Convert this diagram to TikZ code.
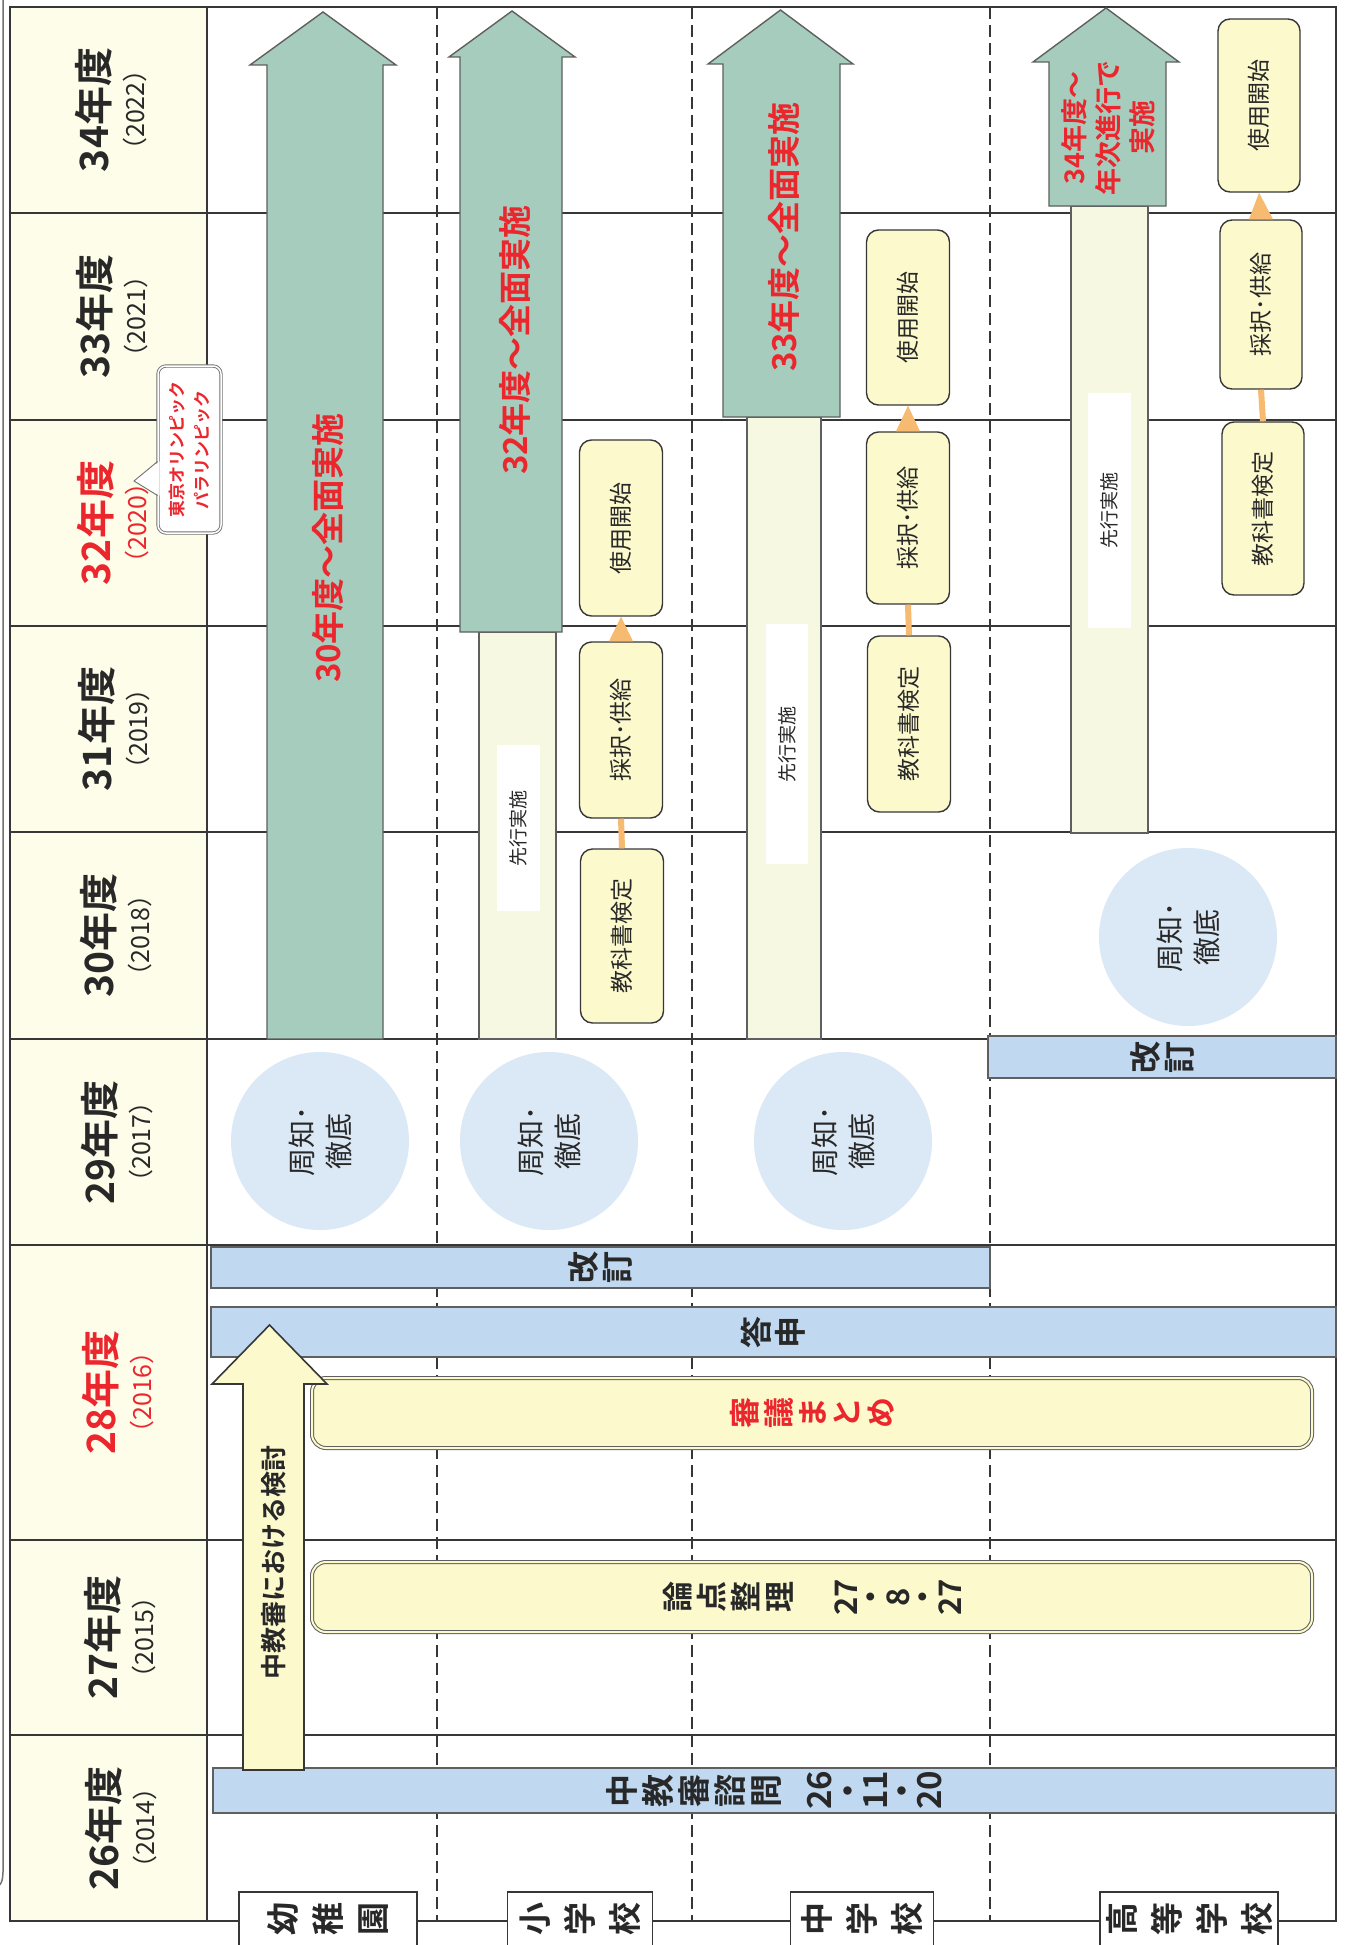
\documentclass[tikz,border=0pt]{standalone}
\usepackage{fontspec}
\setmainfont{Noto Sans CJK JP}[BoldFont={Noto Sans CJK JP Bold}]
\usetikzlibrary{calc}
\definecolor{greenc}{RGB}{166,204,189}
\definecolor{palec}{RGB}{246,248,226}
\definecolor{yellowc}{RGB}{252,249,205}
\definecolor{headc}{RGB}{253,253,234}
\definecolor{bluec}{RGB}{192,217,240}
\definecolor{circc}{RGB}{219,232,245}
\definecolor{redc}{RGB}{235,38,45}
\definecolor{orangec}{RGB}{246,186,112}
\definecolor{linec}{RGB}{55,55,55}
\definecolor{textc}{RGB}{40,40,40}
\newcommand\fs[2]{\fontsize{#1}{#2}\selectfont}
% #1 style, #2 shaft left, #3 shaft right, #4 wing left, #5 wing right, #6 head base y, #7 tip y, #8 bottom y
\newcommand\blockarrow[8]{%
  \path[#1] (#2,#8) -- (#2,#6) -- (#4,#6) -- ({(#4+#5)/2},#7) -- (#5,#6) -- (#3,#6) -- (#3,#8) -- cycle;}
\tikzset{
  gridline/.style={draw=linec, line width=2.4pt},
  sepline/.style={draw=linec, line width=1.8pt, dash pattern=on 12pt off 6pt},
  garrow/.style={fill=greenc, draw=linec!80, line width=1.4pt},
  parrow/.style={fill=yellowc, draw=linec, line width=1.6pt},
  palebar/.style={fill=palec, draw=linec!80, line width=1.3pt},
  wbox/.style={rectangle, fill=white, rotate=90, inner sep=0pt, font=\fs{19}{22}},
  ybox/.style={rectangle, rounded corners=12pt, fill=yellowc, draw=linec, line width=1.4pt, rotate=90, inner sep=0pt, font=\fs{23}{26}},
  bband/.style={rectangle, fill=bluec, draw=linec!80, line width=1.4pt, rotate=90, inner sep=0pt, align=center, font=\fs{32}{34}\bfseries},
  lbox/.style={rectangle, rounded corners=14pt, fill=yellowc, draw=linec!80, double=yellowc, double distance=2pt, line width=1pt, rotate=90, inner sep=0pt, align=center, font=\fs{31}{34}\bfseries},
  circ/.style={circle, fill=circc, minimum size=178pt, inner sep=0pt, rotate=90, align=center, font=\fs{28}{37}},
  yearlbl/.style={rotate=90, align=center, font=\fs{25}{36}},
  arrtxt/.style={rotate=90, text=redc, font=\fs{33}{36}\bfseries},
  schoolbox/.style={rectangle, fill=white, draw=linec, line width=1.8pt, rotate=90, inner sep=0pt, align=center, font=\fs{33}{45}\bfseries},
  orconn/.style={draw=orangec, line width=6pt},
  cbox/.style={rectangle, rounded corners=8pt, fill=white, draw=linec!70, double=white, double distance=1.5pt, line width=0.9pt, rotate=90, inner sep=0pt, align=center, text=redc, font=\fs{17}{25}\bfseries},
}
\begin{document}
\begin{tikzpicture}[x=1pt,y=-1pt, every node/.style={text=textc}]
\useasboundingbox (0,0) rectangle (1354,1945);
\clip (0,0) rectangle (1354,1945);
\fill[white] (0,0) rectangle (1354,1945);
% page edge
\draw[linec!70, line width=1.5pt] (3,0) -- (3,1872) to[out=-90,in=0] (-6,1888);
% header column
\fill[headc] (10,7) rectangle (207,1921);
% column separators
\foreach \x in {437,692,990} \draw[sepline] (\x,7) -- (\x,1921);
% row lines and frame
\foreach \y in {213,420,626,832,1039,1245,1540,1735} \draw[gridline] (10,\y) -- (1336,\y);
\draw[gridline] (10,7) rectangle (1336,1921);
\draw[gridline] (207,7) -- (207,1921);

% year headers
\node[yearlbl] (y34) at (111,110) {{\fs{39}{45}\bfseries 34年度}\\（2022）};
\node[yearlbl] (y33) at (112,316.5) {{\fs{39}{45}\bfseries 33年度}\\（2021）};
\node[yearlbl, text=redc] (y32) at (113,523) {{\fs{39}{45}\bfseries 32年度}\\（2020）};
\node[yearlbl] (y31) at (114,729) {{\fs{39}{45}\bfseries 31年度}\\（2019）};
\node[yearlbl] (y30) at (116,935.5) {{\fs{39}{45}\bfseries 30年度}\\（2018）};
\node[yearlbl] (y29) at (117,1142) {{\fs{39}{45}\bfseries 29年度}\\（2017）};
\node[yearlbl, text=redc] (y28) at (118,1392.5) {{\fs{39}{45}\bfseries 28年度}\\（2016）};
\node[yearlbl] (y27) at (120,1637.5) {{\fs{39}{45}\bfseries 27年度}\\（2015）};
\node[yearlbl] (y26) at (121,1828) {{\fs{39}{45}\bfseries 26年度}\\（2014）};

% circles
\node[circ] (c1) at (320,1141) {周知･\\徹底};
\node[circ] (c2) at (549,1141) {周知･\\徹底};
\node[circ] (c3) at (843,1141) {周知･\\徹底};
\node[circ] (c4) at (1188,937) {周知･\\徹底};

% pale bars (先行実施)
\draw[palebar] (479,632) rectangle (556,1039);
\draw[palebar] (747,417) rectangle (821,1039);
\draw[palebar] (1071,206) rectangle (1148,833);
\node[wbox, minimum width=166, minimum height=43] (s2) at (518.5,828) {先行実施};
\node[wbox, minimum width=240, minimum height=42] (s3) at (787,744) {先行実施};
\node[wbox, minimum width=235, minimum height=43] (s4) at (1109.5,510.5) {先行実施};

% green arrows
\blockarrow{garrow}{267}{383}{250}{396}{65}{12}{1039}
\blockarrow{garrow}{460}{562}{449}{575}{57}{11}{632}
\blockarrow{garrow}{723}{840}{708}{853}{64}{10}{417}
\blockarrow{garrow}{1049}{1166}{1033}{1179}{62}{8}{206}
\node[arrtxt] (g1) at (328,548) {30年度～全面実施};
\node[arrtxt] (g2) at (515,340) {32年度～全面実施};
\node[arrtxt] (g3) at (784,237) {33年度～全面実施};
\node[arrtxt, align=center, font=\fs{27}{34}\bfseries] (g4) at (1108,128) {34年度～\\年次進行で\\実施};

% textbook boxes
\node[ybox, minimum width=176, minimum height=83] (u2) at (621,528) {使用開始};
\node[ybox, minimum width=176, minimum height=83] (t2) at (621,730) {採択･供給};
\node[ybox, minimum width=174, minimum height=83] (k2) at (622,936) {教科書検定};
\node[ybox, minimum width=175, minimum height=83] (u3) at (908,317.5) {使用開始};
\node[ybox, minimum width=172, minimum height=83] (t3) at (908,518) {採択･供給};
\node[ybox, minimum width=176, minimum height=83] (k3) at (909,724) {教科書検定};
\node[ybox, minimum width=173, minimum height=82] (u4) at (1259,105.5) {使用開始};
\node[ybox, minimum width=169, minimum height=82] (t4) at (1261,304.5) {採択･供給};
\node[ybox, minimum width=173, minimum height=82] (k4) at (1263,508.5) {教科書検定};
\foreach \k/\t/\u in {k2/t2/u2,k3/t3/u3,k4/t4/u4}{
  \draw[orconn] (\k.east) -- (\t.west);
  \fill[orangec] ($(\t.east)+(-12,0)$) -- ($(\t.east)+(12,0)$) -- (\u.west) -- cycle;
}

% bands
\node[bband, minimum width=41, minimum height=779] (kai1) at (600.5,1267.5) {改\\訂};
\node[bband, minimum width=42, minimum height=348] (kai2) at (1162,1057) {改\\訂};
\node[bband, minimum width=50, minimum height=1125] (tos) at (773.5,1332) {答\\申};
\node[bband, minimum width=45, minimum height=1123, font=\fs{33}{36}\bfseries] (shi) at (774.5,1790.5)
  {中\\教\\審\\諮\\問\\[17pt]26\\[-7pt]・\\[-9pt]11\\[-9pt]・\\[-9pt]20};
\node[lbox, minimum width=70, minimum height=1000, text=redc] (shingi) at (812,1413) {審\\議\\ま\\と\\め};
\node[lbox, minimum width=70, minimum height=1000] (ronten) at (812,1597)
  {論\\点\\整\\理\\[32pt]27\\[-9pt]・\\[-7pt]8\\[-9pt]・\\[-7pt]27};

% 中教審における検討 arrow
\blockarrow{parrow}{243}{304}{212}{327}{1384}{1325}{1770}
\node[rotate=90, font=\fs{26}{30}\bfseries] (ken) at (274,1562) {中教審における検討};

% callout
\node[cbox, minimum width=167, minimum height=63] (olym) at (189.5,449.5) {東京オリンピック\\パラリンピック};
\coordinate (olymtip) at (134,481);
\fill[white] ($(olym.north)+(2,12)$) -- (olymtip) -- ($(olym.north)+(2,46)$) -- cycle;
\draw[linec!70, line width=0.9pt] ($(olym.north)+(0,12)$) -- (olymtip) -- ($(olym.north)+(0,46)$);

% school labels
\node[schoolbox, minimum width=54, minimum height=178] (sc1) at (328,1919) {幼\\稚\\園};
\node[schoolbox, minimum width=54, minimum height=145] (sc2) at (580,1919) {小\\学\\校};
\node[schoolbox, minimum width=54, minimum height=143] (sc3) at (862,1919) {中\\学\\校};
\node[schoolbox, minimum width=54, minimum height=178] (sc4) at (1189,1919) {高\\等\\学\\校};
\end{tikzpicture}
\end{document}
